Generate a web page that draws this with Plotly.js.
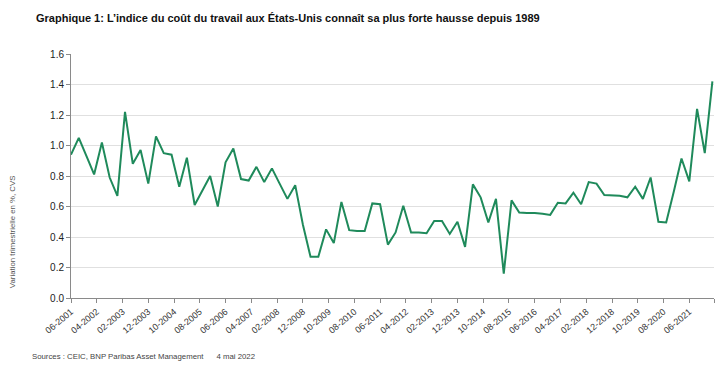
<!DOCTYPE html>
<html>
<head>
<meta charset="utf-8">
<script src="https://cdn.plot.ly/plotly-3.0.1.min.js"></script>
<style>html,body{margin:0;padding:0;background:#fff;}#chart{width:725px;height:366px;}</style>
</head>
<body>
<div id="chart"></div>
<script>
// Quarterly observations (month of quarter shown on the date axis)
const quarters = [
  "2001-06","2001-09","2001-12",
  "2002-03","2002-06","2002-09","2002-12",
  "2003-03","2003-06","2003-09","2003-12",
  "2004-03","2004-06","2004-09","2004-12",
  "2005-03","2005-06","2005-09","2005-12",
  "2006-03","2006-06","2006-09","2006-12",
  "2007-03","2007-06","2007-09","2007-12",
  "2008-03","2008-06","2008-09","2008-12",
  "2009-03","2009-06","2009-09","2009-12",
  "2010-03","2010-06","2010-09","2010-12",
  "2011-03","2011-06","2011-09","2011-12",
  "2012-03","2012-06","2012-09","2012-12",
  "2013-03","2013-06","2013-09","2013-12",
  "2014-03","2014-06","2014-09","2014-12",
  "2015-03","2015-06","2015-09","2015-12",
  "2016-03","2016-06","2016-09","2016-12",
  "2017-03","2017-06","2017-09","2017-12",
  "2018-03","2018-06","2018-09","2018-12",
  "2019-03","2019-06","2019-09","2019-12",
  "2020-03","2020-06","2020-09","2020-12",
  "2021-03","2021-06","2021-09","2021-12",
  "2022-03"
];
// Labour cost index, q/q change in %, SA
const eciChange = [
  0.94, 1.05, 0.93,
  0.81, 1.02, 0.79, 0.67,
  1.22, 0.88, 0.97, 0.75,
  1.06, 0.95, 0.94, 0.73,
  0.92, 0.61, 0.71, 0.80,
  0.60, 0.89, 0.98, 0.78,
  0.77, 0.86, 0.76, 0.85,
  0.75, 0.65, 0.74, 0.48,
  0.27, 0.27, 0.45, 0.36,
  0.63, 0.445, 0.44, 0.44,
  0.62, 0.615, 0.35, 0.43,
  0.605, 0.43, 0.43, 0.425,
  0.505, 0.505, 0.42, 0.50,
  0.335, 0.745, 0.66, 0.495,
  0.65, 0.16, 0.64, 0.56,
  0.558, 0.558, 0.553, 0.545,
  0.625, 0.62, 0.69, 0.615,
  0.76, 0.75, 0.675, 0.67,
  0.67, 0.66, 0.73, 0.65,
  0.79, 0.50, 0.495, 0.70,
  0.915, 0.765, 1.24, 0.95,
  1.42
];
const tickLabels = [
  "06-2001","04-2002","02-2003","12-2003","10-2004","08-2005","06-2006",
  "04-2007","02-2008","12-2008","10-2009","08-2010","06-2011","04-2012",
  "02-2013","12-2013","10-2014","08-2015","06-2016","04-2017","02-2018",
  "12-2018","10-2019","08-2020","06-2021"
];
const yTicks = [0, 0.2, 0.4, 0.6, 0.8, 1.0, 1.2, 1.4, 1.6];

const toDate = q => q + "-01";
const labelToDate = l => l.slice(3) + "-" + l.slice(0, 2) + "-01";
const axisEnd = "2022-03-20";

const tickvals = tickLabels.map(labelToDate).concat([axisEnd]);
const ticktext = tickLabels.concat([""]);

const trace = {
  x: quarters.map(toDate),
  y: eciChange,
  type: "scatter",
  mode: "lines",
  line: {color: "#1f8a5b", width: 2},
  hoverinfo: "x+y"
};

const layout = {
  width: 725, height: 366,
  margin: {l: 71, r: 11, t: 54, b: 68},
  paper_bgcolor: "#ffffff", plot_bgcolor: "#ffffff",
  showlegend: false,
  title: {
    text: "Graphique 1: L’indice du coût du travail aux États-Unis connaît sa plus forte hausse depuis 1989",
    font: {family: "Liberation Sans, Arial, sans-serif", size: 11, weight: "bold", color: "#111"},
    x: 36 / 725, xanchor: "left", xref: "container",
    y: 1 - 18 / 366, yanchor: "middle", yref: "container"
  },
  xaxis: {
    type: "date",
    range: [toDate(quarters[0]), axisEnd],
    tickmode: "array", tickvals: tickvals, ticktext: ticktext,
    tickangle: -40,
    tickfont: {family: "Liberation Sans, Arial, sans-serif", size: 9, color: "#333"},
    ticks: "outside", ticklen: 4, tickcolor: "#8a8a8a", tickwidth: 1,
    showgrid: false, zeroline: false,
    showline: true, linecolor: "#8a8a8a", linewidth: 1,
    fixedrange: true
  },
  yaxis: {
    range: [0, 1.6],
    tickmode: "array", tickvals: yTicks, ticktext: yTicks.map(v => v.toFixed(1)),
    tickfont: {family: "Liberation Sans, Arial, sans-serif", size: 10, color: "#222"},
    ticks: "outside", ticklen: 4, tickcolor: "#8a8a8a", tickwidth: 1,
    showgrid: true, gridcolor: "#e0e0e0", gridwidth: 1,
    zeroline: false,
    showline: true, linecolor: "#8a8a8a", linewidth: 1,
    fixedrange: true
  },
  annotations: [
    {
      text: "Variation trimestrielle en %, CVS",
      textangle: -90,
      xref: "paper", yref: "paper",
      x: (12 - 71) / 643, y: (297.7 - 232) / 243.4,
      xanchor: "center", yanchor: "middle",
      showarrow: false,
      font: {family: "Liberation Sans, Arial, sans-serif", size: 7.8, color: "#555"}
    },
    {
      text: "Sources : CEIC, BNP Paribas Asset Management&nbsp;&nbsp;&nbsp;&nbsp;&nbsp; 4 mai 2022",
      xref: "paper", yref: "paper",
      x: (30 - 71) / 643, y: (297.7 - 356) / 243.4,
      xanchor: "left", yanchor: "middle",
      showarrow: false,
      font: {family: "Liberation Sans, Arial, sans-serif", size: 7.8, color: "#444"}
    }
  ]
};

Plotly.newPlot("chart", [trace], layout, {displayModeBar: false, staticPlot: true});
</script>
</body>
</html>
